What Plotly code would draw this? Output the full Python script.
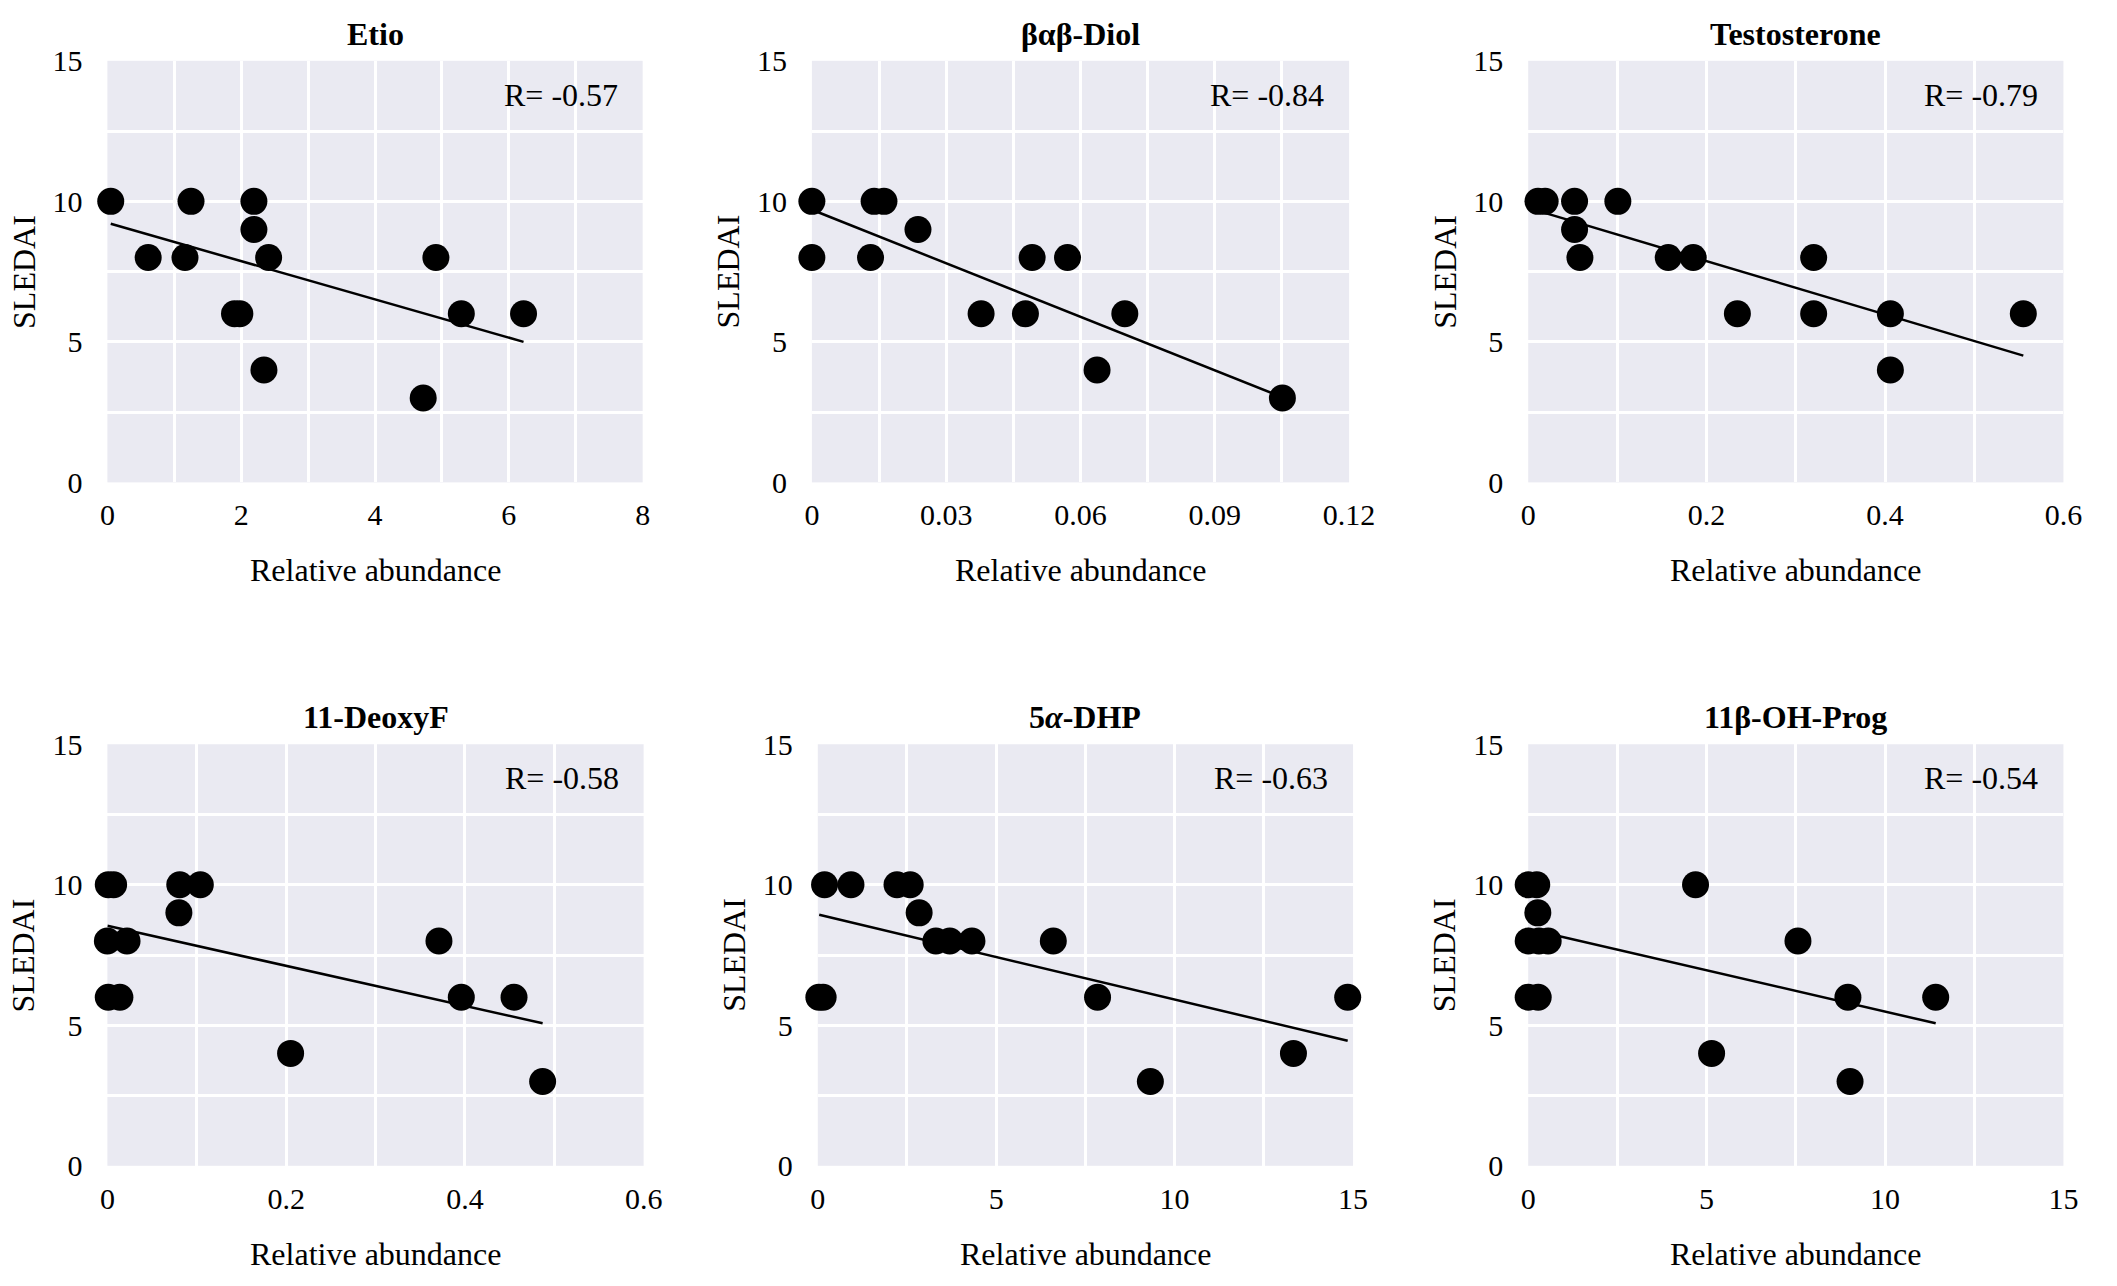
import plotly.graph_objects as go

# panel titles and correlation labels
titles = ["Etio", "βαβ-Diol", "Testosterone", "11-DeoxyF", "5<i>α</i>-DHP", "11β-OH-Prog"]
r_labels = ["R= -0.57", "R= -0.84", "R= -0.79", "R= -0.58", "R= -0.63", "R= -0.54"]

# Etio
etio_x = [0.05, 0.61, 1.16, 1.25, 1.90, 1.98, 2.19, 2.19, 2.41, 2.34, 4.72, 4.91, 5.29, 6.22]
etio_y = [10, 8, 8, 10, 6, 6, 10, 9, 8, 4, 3, 8, 6, 6]
etio_fit_x = [0.05, 6.22]
etio_fit_y = [9.2, 5.0]

# βαβ-Diol
diol_x = [0.0, 0.0, 0.0131, 0.0139, 0.0161, 0.0237, 0.0378, 0.0477, 0.0492, 0.0571, 0.0637, 0.0699, 0.1051]
diol_y = [10, 8, 8, 10, 10, 9, 6, 6, 8, 8, 4, 6, 3]
diol_fit_x = [0.0, 0.1051]
diol_fit_y = [9.7, 3.03]

# Testosterone
testo_x = [0.011, 0.019, 0.052, 0.052, 0.058, 0.1005, 0.157, 0.185, 0.2345, 0.320, 0.320, 0.406, 0.406, 0.555]
testo_y = [10, 10, 10, 9, 8, 10, 8, 8, 6, 8, 6, 6, 4, 6]
testo_fit_x = [0.011, 0.555]
testo_fit_y = [9.66, 4.51]

# 11-DeoxyF
deoxyf_x = [0.001, 0.007, 0.0, 0.022, 0.001, 0.014, 0.081, 0.104, 0.080, 0.371, 0.396, 0.455, 0.205, 0.487]
deoxyf_y = [10, 10, 8, 8, 6, 6, 10, 10, 9, 8, 6, 6, 4, 3]
deoxyf_fit_x = [0.0, 0.487]
deoxyf_fit_y = [8.54, 5.07]

# 5α-DHP
dhp_x = [0.03, 0.15, 0.19, 0.93, 2.22, 2.59, 2.84, 3.31, 3.70, 4.32, 6.60, 7.84, 9.32, 13.33, 14.85]
dhp_y = [6, 6, 10, 10, 10, 10, 9, 8, 8, 8, 8, 6, 3, 4, 6]
dhp_fit_x = [0.04, 14.85]
dhp_fit_y = [8.93, 4.45]

# 11β-OH-Prog
ohprog_x = [0.0, 0.24, 0.27, 0.0, 0.30, 0.56, 0.0, 0.28, 4.69, 5.14, 7.56, 8.96, 9.02, 11.42]
ohprog_y = [10, 10, 9, 8, 8, 8, 6, 6, 10, 4, 8, 6, 3, 6]
ohprog_fit_x = [0.0, 11.42]
ohprog_fit_y = [8.43, 5.07]

xs = [etio_x, diol_x, testo_x, deoxyf_x, dhp_x, ohprog_x]
ys = [etio_y, diol_y, testo_y, deoxyf_y, dhp_y, ohprog_y]
fit_xs = [etio_fit_x, diol_fit_x, testo_fit_x, deoxyf_fit_x, dhp_fit_x, ohprog_fit_x]
fit_ys = [etio_fit_y, diol_fit_y, testo_fit_y, deoxyf_fit_y, dhp_fit_y, ohprog_fit_y]

# tick labels
x_tickvals = [
    [0, 2, 4, 6, 8],
    [0, 0.03, 0.06, 0.09, 0.12],
    [0, 0.2, 0.4, 0.6],
    [0, 0.2, 0.4, 0.6],
    [0, 5, 10, 15],
    [0, 5, 10, 15],
]
x_ticktext = [
    ["0", "2", "4", "6", "8"],
    ["0", "0.03", "0.06", "0.09", "0.12"],
    ["0", "0.2", "0.4", "0.6"],
    ["0", "0.2", "0.4", "0.6"],
    ["0", "5", "10", "15"],
    ["0", "5", "10", "15"],
]
x_minor = [1, 0.015, 0.1, 0.1, 2.5, 2.5]
y_tickvals = [0, 5, 10, 15]
y_ticktext = ["0", "5", "10", "15"]

W, H = 2117, 1286
# plot areas in pixels (left, right), rows (top, bottom)
cols_px = [(101, 645), (817, 1363), (1545, 2089), (101, 646), (823, 1367), (1545, 2089)]
rows_px = [(45, 478), (45, 478), (45, 478), (747, 1180), (747, 1180), (747, 1180)]

FONT = "Liberation Serif"
BG = "#EAEAF2"
config = {'displayModeBar': False}

fig = go.Figure()
layout = dict(
    width=W, height=H,
    margin=dict(l=0, r=0, t=0, b=0),
    paper_bgcolor="white",
    plot_bgcolor=BG,
    showlegend=False,
    font=dict(family=FONT, size=30, color="black"),
)
annotations = []

for i in range(6):
    n = "" if i == 0 else str(i + 1)
    xa, ya = "x" + n, "y" + n
    # trend line
    fig.add_trace(go.Scatter(x=fit_xs[i], y=fit_ys[i], mode="lines",
                             line=dict(color="black", width=2.5),
                             xaxis=xa, yaxis=ya, hoverinfo="skip",
                             cliponaxis=False))
    # patients
    fig.add_trace(go.Scatter(x=xs[i], y=ys[i], mode="markers",
                             marker=dict(color="black", size=27),
                             xaxis=xa, yaxis=ya, cliponaxis=False))
    l, r = cols_px[i]
    t, b = rows_px[i]
    xmax = x_tickvals[i][-1]
    layout["xaxis" + n] = dict(
        domain=[l / W, r / W], anchor=ya, range=[0, xmax],
        tickmode="array", tickvals=x_tickvals[i], ticktext=x_ticktext[i],
        ticks="outside", ticklen=6, tickcolor="rgba(0,0,0,0)",
        showgrid=True, gridcolor="white", gridwidth=3,
        minor=dict(dtick=x_minor[i], tick0=0, showgrid=True, gridcolor="white", gridwidth=3),
        zeroline=False, showline=False,
        tickfont=dict(family=FONT, size=30, color="black"),
    )
    layout["yaxis" + n] = dict(
        domain=[1 - b / H, 1 - t / H], anchor=xa, range=[0, 15],
        tickmode="array", tickvals=y_tickvals, ticktext=y_ticktext,
        ticks="outside", ticklen=18, tickcolor="rgba(0,0,0,0)",
        showgrid=True, gridcolor="white", gridwidth=3,
        minor=dict(dtick=2.5, tick0=0, showgrid=True, gridcolor="white", gridwidth=3),
        zeroline=False, showline=False,
        tickfont=dict(family=FONT, size=30, color="black"),
    )
    xd, yd = xa + " domain", ya + " domain"
    annotations += [
        dict(text="<b>" + titles[i] + "</b>", xref=xd, yref=yd, x=0.5, y=1,
             yshift=27, xanchor="center", yanchor="middle", showarrow=False,
             font=dict(family=FONT, size=32)),
        dict(text=r_labels[i], xref=xd, yref=yd, x=1, y=1, xshift=-23, yshift=-34,
             xanchor="right", yanchor="middle", showarrow=False,
             font=dict(family=FONT, size=32)),
        dict(text="Relative abundance", xref=xd, yref=yd, x=0.5, y=0, yshift=-88,
             xanchor="center", yanchor="middle", showarrow=False,
             font=dict(family=FONT, size=32)),
        dict(text="SLEDAI", xref=xd, yref=yd, x=0, y=0.5, xshift=-84, textangle=-90,
             xanchor="center", yanchor="middle", showarrow=False,
             font=dict(family=FONT, size=32)),
    ]

layout["annotations"] = annotations
fig.update_layout(**layout)
fig.write_html("out.html", config=config, post_script="document.body.style.margin='0';")
